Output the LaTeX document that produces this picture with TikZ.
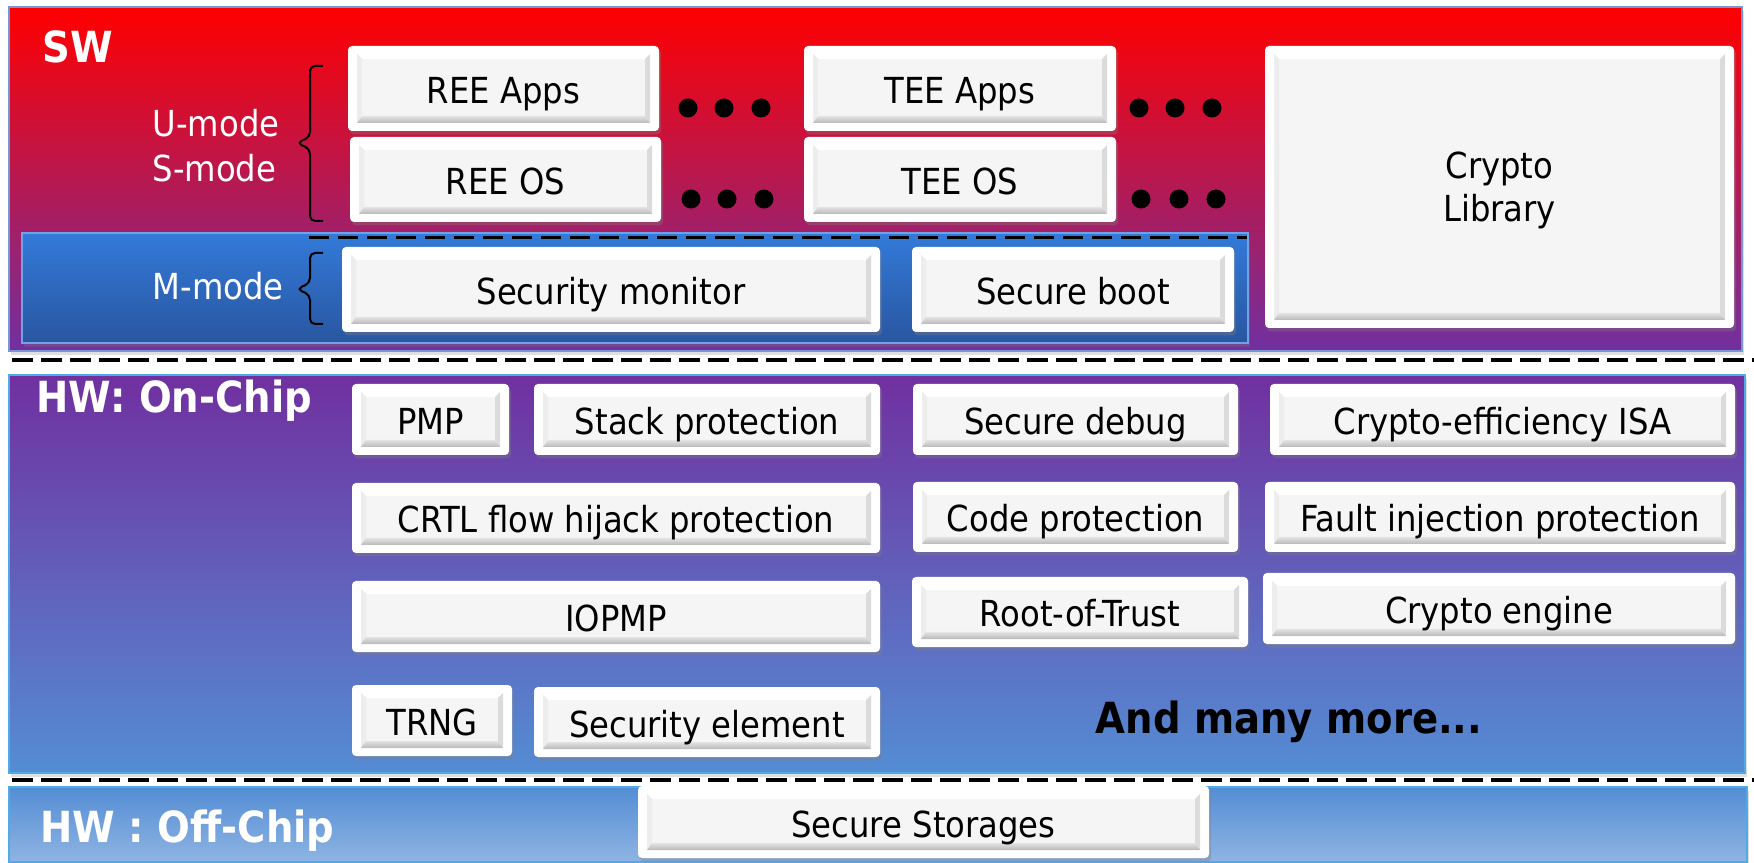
\documentclass[tikz,border=0pt]{standalone}
\usepackage{fontspec}
\setmainfont{DejaVu Sans Condensed}
\usetikzlibrary{calc,shadows}

\definecolor{swred}{RGB}{255,0,0}
\definecolor{swpurple}{RGB}{112,48,160}
\definecolor{mblue}{RGB}{51,122,217}
\definecolor{mbluedark}{RGB}{41,86,160}
\definecolor{hwblue}{RGB}{84,141,212}
\definecolor{hwlight}{RGB}{142,180,227}
\definecolor{swframe}{RGB}{120,150,210}
\definecolor{hwframe}{RGB}{80,170,230}
\definecolor{faceg}{RGB}{245,245,245}

\newcommand{\boxfont}{\fontsize{10.2}{12.2}\selectfont}
\newcommand{\headfont}{\fontsize{12.2}{14}\selectfont\bfseries}

\tikzset{
  bevel/.style={fill=white, rounded corners=0.4mm, inner sep=0pt, align=center, font=\boxfont,
    text depth=0pt,
    drop shadow={shadow xshift=0.2mm, shadow yshift=-0.35mm, opacity=0.35},
    path picture={
      \coordinate (pA) at ($(path picture bounding box.north west)+(9,8)$);
      \coordinate (pB) at ($(path picture bounding box.north east)+(-9,8)$);
      \coordinate (pC) at ($(path picture bounding box.south east)+(-9,-8)$);
      \coordinate (pD) at ($(path picture bounding box.south west)+(9,-8)$);
      \fill[sharp corners, faceg] (pA) -- (pB) -- (pC) -- (pD) -- cycle;
      \fill[sharp corners, white] (pA) -- (pB) -- ($(pB)+(-5,5)$) -- ($(pA)+(5,5)$) -- cycle;
      \fill[sharp corners, gray!14] (pA) -- ($(pA)+(5,5)$) -- ($(pD)+(5,-7)$) -- (pD) -- cycle;
      \fill[sharp corners, gray!28] (pB) -- (pC) -- ($(pC)+(-5,-7)$) -- ($(pB)+(-5,5)$) -- cycle;
      \shade[sharp corners, top color=gray!22, bottom color=gray!55] (pD) -- ($(pD)+(5,-7)$) -- ($(pC)+(-5,-7)$) -- (pC) -- cycle;
    }},
  blk/.style={bevel, text height=3mm},
  panel/.style={line width=0.2mm, drop shadow={shadow xshift=0.2mm, shadow yshift=-0.4mm, opacity=0.25}},
  sepline/.style={line width=0.4mm, dash pattern=on 2.1mm off 0.8mm},
  mline/.style={line width=0.3mm, dash pattern=on 2mm off 0.9mm},
  modebrace/.style={line width=0.2mm, rounded corners=0.5mm},
  modetext/.style={text=white, font=\boxfont, inner sep=0pt},
  head/.style={text=white, font=\headfont, inner sep=0pt},
}

\begin{document}
\begin{tikzpicture}[x=0.1mm, y=-0.1mm]
\fill[white] (0,0) rectangle (1754,863);
\useasboundingbox (0,0) rectangle (1754,863);

% layers
\path[panel, draw=swframe, top color=swred, bottom color=swpurple] (9,7) rectangle (1742,351);
\path[panel, draw=hwframe, top color=swpurple, bottom color=hwblue] (9,375) rectangle (1745,773);
\path[panel, draw=hwframe, top color=hwblue, bottom color=hwlight] (9,787) rectangle (1747,862);
\draw[sepline] (12,360) -- (1754,360);
\draw[sepline] (12,780) -- (1754,780);

\path[panel, draw=mblue!70!white, top color=mblue, bottom color=mbluedark] (22,233) rectangle (1248,343);
\draw[mline] (309,238) -- (1247,238);

\draw[modebrace] (323,66) -- (310,66) -- (310,137) -- (297,143) -- (310,149) -- (310,221) -- (323,221);
\draw[modebrace] (323,253) -- (310,253) -- (310,283) -- (297,289) -- (310,295) -- (310,324) -- (323,324);

\node[head, anchor=base west] (swlabel) at (42,63) {SW};
\node[modetext, anchor=base west] (umode) at (152,137) {U-mode};
\node[modetext, anchor=base west] (smode) at (152,182) {S-mode};
\node[modetext, anchor=base west] (mmode) at (152,300) {M-mode};
\node[head, anchor=base west] (onchip) at (36,413) {HW: On-Chip};
\node[head, anchor=base west] (offchip) at (40,842) {HW : Off-Chip};

\foreach \x/\y in {688/108, 724/108, 761/108, 691/199, 727/199, 764/199,
                   1139/108, 1175/108, 1212/108, 1141/199, 1179/199, 1216/199}
  \fill (\x,\y) circle (9.5);

% software
\node[blk, minimum width=31.1mm, minimum height=8.5mm] (reeapps) at (503.5,88.5) {REE Apps};
\node[blk, minimum width=31.1mm, minimum height=8.5mm] (reeos) at (505.5,179.5) {REE OS};
\node[blk, minimum width=31.2mm, minimum height=8.5mm] (teeapps) at (960,88.5) {TEE Apps};
\node[blk, minimum width=31.2mm, minimum height=8.5mm] (teeos) at (960,179.5) {TEE OS};
\node[bevel, minimum width=46.9mm, minimum height=28.2mm] (cryptolib) at (1499.5,187) {Crypto\\Library};
\node[blk, minimum width=53.8mm, minimum height=8.5mm] (secmon) at (611,289.5) {Security monitor};
\node[blk, minimum width=32.2mm, minimum height=8.5mm] (secboot) at (1073,289.5) {Secure boot};

% on-chip hardware
\node[blk, minimum width=15.7mm, minimum height=7.1mm] (pmp) at (430.5,419.5) {PMP};
\node[blk, minimum width=34.6mm, minimum height=7.1mm] (stackprot) at (707,419.5) {Stack protection};
\node[blk, minimum width=32.5mm, minimum height=7.1mm] (secdebug) at (1075.5,419.5) {Secure debug};
\node[blk, minimum width=46.5mm, minimum height=7.1mm] (cryptoisa) at (1502.5,419.5) {Crypto-efficiency ISA};
\node[blk, minimum width=52.8mm, minimum height=7mm] (cfi) at (616,518) {CRTL flow hijack protection};
\node[blk, minimum width=32.5mm, minimum height=7mm] (codeprot) at (1075.5,517) {Code protection};
\node[blk, minimum width=47mm, minimum height=7mm] (faultinj) at (1500,517) {Fault injection protection};
\node[blk, minimum width=52.8mm, minimum height=7.1mm] (iopmp) at (616,616.5) {IOPMP};
\node[blk, minimum width=33.6mm, minimum height=7mm] (rot) at (1080,612) {Root-of-Trust};
\node[blk, minimum width=47.2mm, minimum height=7.1mm] (cryptoeng) at (1499,608.5) {Crypto engine};
\node[blk, minimum width=16mm, minimum height=7.1mm] (trng) at (432,720.5) {TRNG};
\node[blk, minimum width=34.6mm, minimum height=7mm] (secelem) at (707,722) {Security element};
\node[font=\headfont, inner sep=0pt, anchor=base] (more) at (1289,733) {And many more...};

% off-chip hardware
\node[blk, minimum width=57.1mm, minimum height=7.2mm] (storages) at (923.5,822) {Secure Storages};
\end{tikzpicture}
\end{document}
